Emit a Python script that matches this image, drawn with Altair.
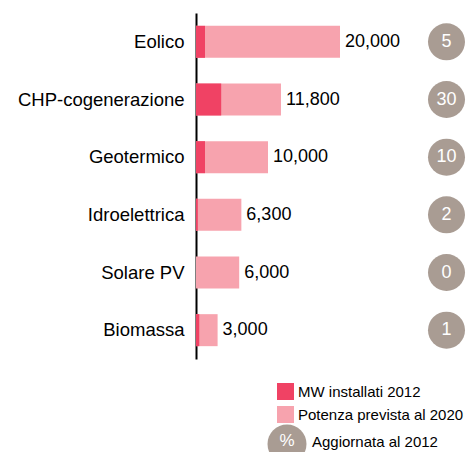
import altair as alt
import pandas as pd

categories = ["Eolico", "CHP-cogenerazione", "Geotermico", "Idroelettrica", "Solare PV", "Biomassa"]
installed_2012 = [1250, 3500, 1250, 250, 0, 450]
forecast_2020 = [20000, 11800, 10000, 6300, 6000, 3000]
updated_pct = [5, 30, 10, 2, 0, 1]

series_names = ["MW installati 2012", "Potenza prevista al 2020"]
series_colors = ["#f04264", "#f7a3ae"]
note_symbol = ["%"]
note_label = ["Aggiornata al 2012"]

FONT = "Liberation Sans"
GRAY = "#a99c93"

rows = []
for c, v in zip(categories, forecast_2020):
    rows.append({"category": c, "series": series_names[1], "value": v, "order": 0})
for c, v in zip(categories, installed_2012):
    rows.append({"category": c, "series": series_names[0], "value": v, "order": 1})
bars_df = pd.DataFrame(rows)
info_df = pd.DataFrame({"category": categories, "total": forecast_2020, "pct": updated_pct})
note_df = pd.DataFrame({"symbol": note_symbol, "label": note_label})

W, H = 271, 346
xscale = alt.Scale(domain=[0, 38750 * 271 / 279])
yenc = alt.Y(
    "category:N",
    sort=categories,
    scale=alt.Scale(paddingInner=0.445, paddingOuter=0.2225),
    axis=alt.Axis(
        title=None, ticks=False, tickSize=0, labelPadding=12, labelFontSize=18.5,
        labelFont=FONT, labelColor="black", domainColor="black", domainWidth=2,
        grid=False,
    ),
)

bars = alt.Chart(bars_df).mark_bar().encode(
    x=alt.X("value:Q", scale=xscale, axis=None, stack=None),
    y=yenc,
    color=alt.Color(
        "series:N",
        scale=alt.Scale(domain=series_names, range=series_colors),
        legend=alt.Legend(
            title=None, orient="none", legendX=81, legendY=370,
            symbolType="square", symbolSize=289, symbolStrokeWidth=0,
            labelFontSize=15, labelFont=FONT, labelColor="black", labelLimit=400,
            rowPadding=6, labelOffset=4, padding=0,
        ),
    ),
    order=alt.Order("order:Q"),
)

values = alt.Chart(info_df).mark_text(
    align="left", baseline="middle", dx=5, fontSize=18, font=FONT, color="black"
).encode(
    x=alt.X("total:Q", scale=xscale),
    y=yenc,
    text=alt.Text("total:Q", format=","),
)

circles = alt.Chart(info_df).mark_circle(size=1369, color=GRAY, opacity=1).encode(
    x=alt.value(250.5), y=yenc
)
circle_text = alt.Chart(info_df).mark_text(
    align="center", baseline="middle", fontSize=18, font=FONT, color="white"
).encode(x=alt.value(250.5), y=yenc, text=alt.Text("pct:Q"))

note_circle = alt.Chart(note_df).mark_circle(size=1521, color=GRAY, opacity=1).encode(
    x=alt.value(91), y=alt.value(431)
)
note_sym = alt.Chart(note_df).mark_text(
    align="center", baseline="middle", fontSize=17, font=FONT, color="white"
).encode(x=alt.value(91), y=alt.value(428), text="symbol:N")
note_txt = alt.Chart(note_df).mark_text(
    align="left", baseline="middle", fontSize=15, font=FONT, color="black"
).encode(x=alt.value(116), y=alt.value(429), text="label:N")

chart = alt.layer(
    bars, values, circles, circle_text, note_circle, note_sym, note_txt
).properties(
    width=W, height=H,
    padding={"left": 188, "top": 5, "right": 0, "bottom": 93},
    autosize="none",
).configure_view(stroke=None)

chart.save("out.html", embed_options={"renderer": "svg", "actions": False})
